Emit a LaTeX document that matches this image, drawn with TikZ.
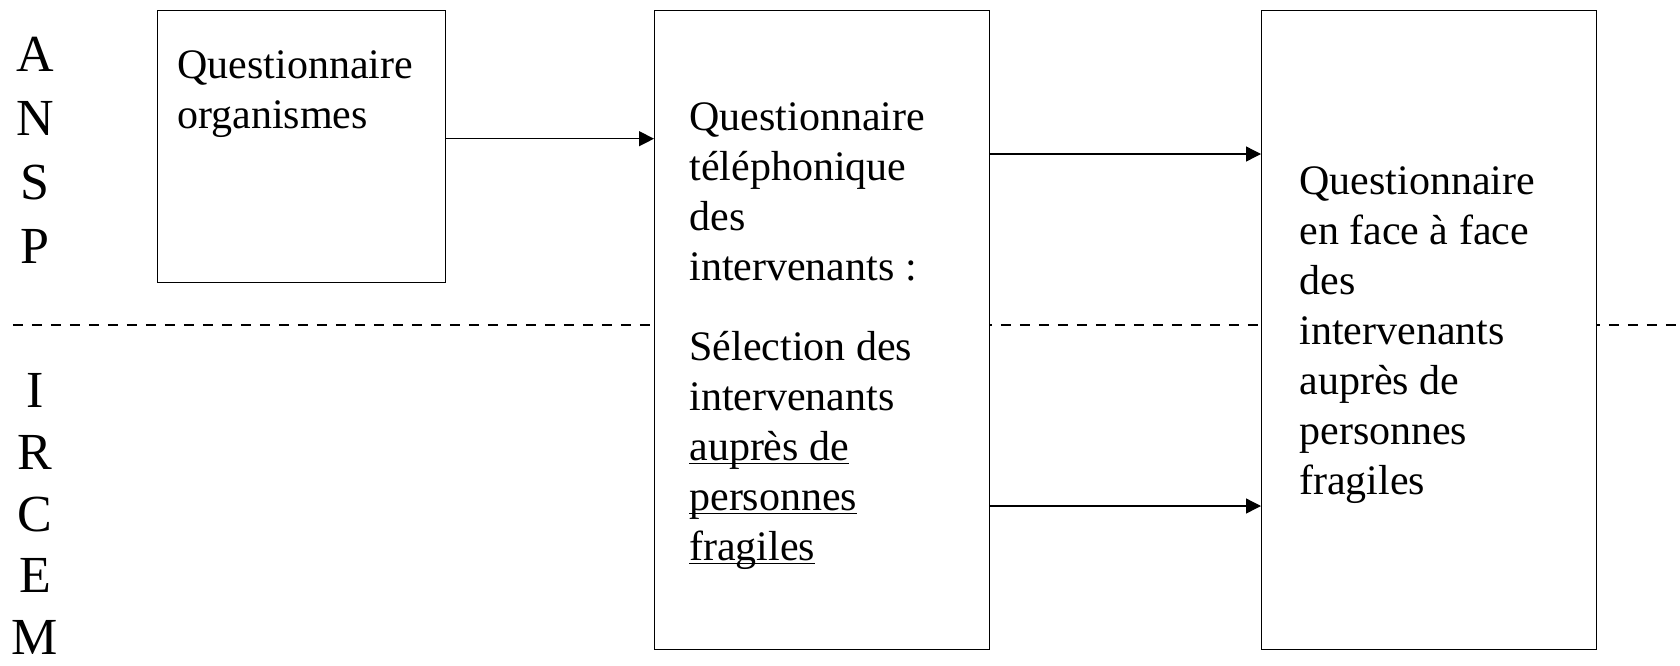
\documentclass[tikz,border=0pt]{standalone}
\usepackage{fontspec}
\setmainfont{Liberation Serif}
\usetikzlibrary{arrows.meta, positioning}

% underline drawn close to the baseline
\newcommand{\ulword}[1]{\underline{\smash{#1}}}

\begin{document}
\begin{tikzpicture}[
    panel/.style={draw=black, line width=0.8pt, fill=white, inner sep=0pt, anchor=north west},
    paneltext/.style={inner sep=0pt, anchor=north west, align=left, font=\fontsize{23.9}{28.5}\selectfont},
    sidelabel/.style={inner sep=0pt, anchor=north, align=center, font=\fontsize{29.6}{36.4}\selectfont},
    flow/.style={line width=0.75pt, -{Triangle[length=0.3cm, width=0.3cm]}},
    divider/.style={line width=0.75pt, dash pattern=on 0.2cm off 0.18cm}
]

% Canvas
\useasboundingbox (0, 0) rectangle (33.6, -13.3);

% Define panel height
\def\panelheight{12.78}

% Dashed divider between the two partners
\coordinate (divL) at (0.26, -6.50);
\coordinate (divR) at (33.6, -6.50);
\draw[divider] (divL) -- (divR);

% Partner labels
\node[sidelabel] (ansp) at (0.70, -0.74) {A\\N\\S\\P};
\node[sidelabel, font=\fontsize{29.6}{35.2}\selectfont] (ircem) at (0.70, -7.46) {I\\R\\C\\E\\M};

% Boxes
\node[panel, minimum width=5.76cm, minimum height=5.44cm] (orga) at (3.14, -0.20) {};
\node[panel, minimum width=6.70cm, minimum height=\panelheight cm] (tel) at (13.08, -0.20) {};
\node[panel, minimum width=6.70cm, minimum height=\panelheight cm] (face) at (25.22, -0.20) {};

% Box texts
\node[paneltext] (orgatxt) at ([shift={(0.40, -0.80)}]orga.north west) {Questionnaire\\organismes};
\node[paneltext] (teltxt) at ([shift={(0.70, -1.84)}]tel.north west)
    {Questionnaire\\t\'el\'ephonique\\des\\intervenants :\\[17pt]
     S\'election des\\intervenants\\\ulword{aupr\`es de}\\\ulword{personnes}\\\ulword{fragiles}};
\node[paneltext] (facetxt) at ([shift={(0.76, -3.12)}]face.north west)
    {Questionnaire\\en face \`a face\\des\\intervenants\\aupr\`es de\\personnes\\fragiles};

% Arrows
\draw[flow] ([yshift=0.16cm]orga.east) coordinate (a1) -- (a1 -| tel.west);
\draw[flow] ([yshift=-2.88cm]tel.north east) coordinate (a2) -- (a2 -| face.west);
\draw[flow] ([yshift=-9.92cm]tel.north east) coordinate (a3) -- (a3 -| face.west);

\end{tikzpicture}
\end{document}
